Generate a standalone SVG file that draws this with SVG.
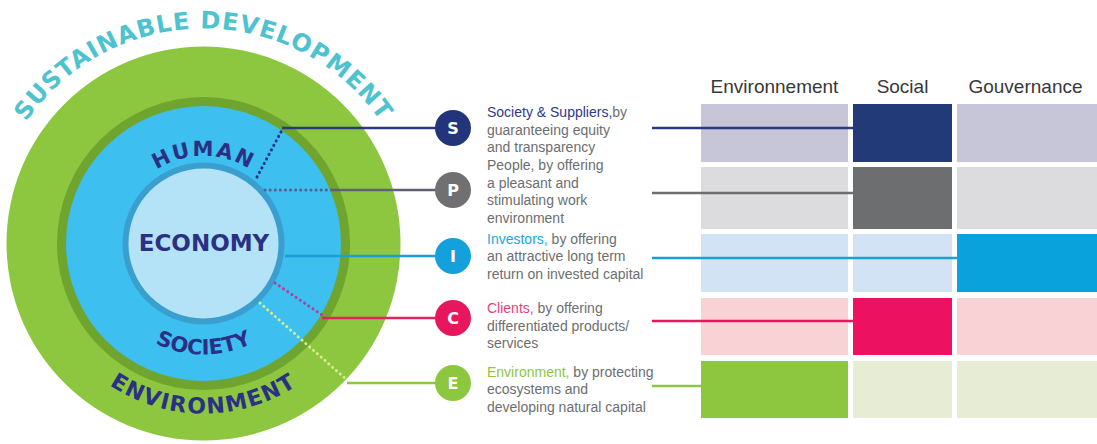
<svg xmlns="http://www.w3.org/2000/svg" width="1097" height="444" viewBox="0 0 1097 444">
<style>
.ring{font-family:"DejaVu Sans",sans-serif;font-weight:bold;fill:#2a3185}
.desc{font-family:"Liberation Sans",Arial,sans-serif;font-size:14px;fill:#6d6e70}
.hdr{font-family:"Liberation Sans",Arial,sans-serif;font-size:19px;fill:#383838;text-anchor:middle}
.let{font-family:"DejaVu Sans",sans-serif;font-weight:bold;font-size:16px;fill:#fff;text-anchor:middle}
.dot{fill:none;stroke-width:3;stroke-linecap:round;stroke-dasharray:0.1 5}
.sol{fill:none;stroke-width:2.5}
</style>
<defs>
<path id="pSust" d="M-11.5,243.5 A215,215 0 0 1 418.5,243.5"/>
<path id="pHuman" d="M116,243.5 A87.5,87.5 0 0 1 291,243.5"/>
<path id="pSociety" d="M92.5,243.5 A111,111 0 0 0 314.5,243.5"/>
<path id="pEnv" d="M33.5,243.5 A170,170 0 0 0 373.5,243.5"/>
</defs>
<rect width="1097" height="444" fill="#fff"/>

<g id="sustainability-circle">
<circle cx="203.5" cy="243.5" r="197" fill="#8dc63f"/>
<circle cx="203.5" cy="243.5" r="146.5" fill="#6fa52e"/>
<circle cx="203.5" cy="243.5" r="137.5" fill="#3dbfef"/>
<circle cx="203.5" cy="243.5" r="81" fill="#3a9fcf"/>
<circle cx="203.5" cy="243.5" r="75" fill="#b4e2f7"/>
<text class="ring" font-size="24" style="fill:#4ec3d0" letter-spacing="1"><textPath href="#pSust" startOffset="50%" text-anchor="middle">SUSTAINABLE DEVELOPMENT</textPath></text>
<text class="ring" font-size="21" letter-spacing="2"><textPath href="#pHuman" startOffset="50%" text-anchor="middle">HUMAN</textPath></text>
<text class="ring" font-size="23" x="204" y="251" text-anchor="middle">ECONOMY</text>
<text class="ring" font-size="21"><textPath href="#pSociety" startOffset="50%" text-anchor="middle">SOCIETY</textPath></text>
<text class="ring" font-size="22" letter-spacing="1.5"><textPath href="#pEnv" startOffset="50%" text-anchor="middle">ENVIRONMENT</textPath></text>
</g>

<g id="esg-grid">
<text class="hdr" x="774.5" y="93">Environnement</text>
<text class="hdr" x="902.5" y="93">Social</text>
<text class="hdr" x="1025.5" y="93">Gouvernance</text>
<rect x="701" y="104" width="147" height="58" fill="#c6c6d8"/>
<rect x="853" y="104" width="99" height="58" fill="#233a78"/>
<rect x="957" y="104" width="140" height="58" fill="#c6c6d8"/>
<rect x="701" y="167" width="147" height="62" fill="#dcdcde"/>
<rect x="853" y="167" width="99" height="62" fill="#6d6e70"/>
<rect x="957" y="167" width="140" height="62" fill="#dcdcde"/>
<rect x="701" y="234" width="147" height="58" fill="#d2e3f5"/>
<rect x="853" y="234" width="99" height="58" fill="#d2e3f5"/>
<rect x="957" y="234" width="140" height="58" fill="#0aa2dc"/>
<rect x="701" y="298" width="147" height="57" fill="#f9d2d5"/>
<rect x="853" y="298" width="99" height="57" fill="#ec1261"/>
<rect x="957" y="298" width="140" height="57" fill="#f9d2d5"/>
<rect x="701" y="361" width="147" height="57" fill="#8dc63f"/>
<rect x="853" y="361" width="99" height="57" fill="#e6edd4"/>
<rect x="957" y="361" width="140" height="57" fill="#e6edd4"/>
</g>

<g id="connectors">
<line class="dot" x1="257" y1="177" x2="282" y2="130" stroke="#22357a"/>
<line class="sol" x1="282" y1="128" x2="440" y2="128" stroke="#2a3a7a"/>
<line class="dot" x1="265" y1="190" x2="330" y2="190" stroke="#55618f"/>
<line class="sol" x1="330" y1="190" x2="440" y2="190" stroke="#5f6272"/>
<line class="sol" x1="285" y1="256" x2="440" y2="256" stroke="#1a9fd8"/>
<line class="dot" x1="275" y1="283" x2="322" y2="315" stroke="#b0409a"/>
<line class="sol" x1="322" y1="318" x2="440" y2="318" stroke="#e0245e"/>
<line class="dot" x1="260" y1="303" x2="347" y2="380" stroke="#d8ec8e"/>
<line class="sol" x1="347" y1="383" x2="440" y2="383" stroke="#8dc63f"/>
<line class="sol" x1="652" y1="128" x2="853" y2="128" stroke="#2a3a7a"/>
<line class="sol" x1="652" y1="193" x2="853" y2="193" stroke="#6d6e70"/>
<line class="sol" x1="652" y1="258" x2="957" y2="258" stroke="#1a9fd8"/>
<line class="sol" x1="652" y1="321" x2="853" y2="321" stroke="#e8175d"/>
<line class="sol" x1="652" y1="386" x2="701" y2="386" stroke="#8dc63f"/>
</g>

<g id="node-S">
<circle cx="453" cy="128" r="18" fill="#22357a"/>
<text class="let" x="453" y="134">S</text>
<text class="desc"><tspan x="487" y="117"><tspan fill="#2e3a87">Society &amp; Suppliers,</tspan>by</tspan><tspan x="487" y="134.5">guaranteeing equity</tspan><tspan x="487" y="152">and transparency</tspan></text>
</g>
<g id="node-P">
<circle cx="453" cy="190" r="18" fill="#707072"/>
<text class="let" x="453" y="196">P</text>
<text class="desc"><tspan x="487" y="170">People, by offering</tspan><tspan x="487" y="187.5">a pleasant and</tspan><tspan x="487" y="205">stimulating work</tspan><tspan x="487" y="222.5">environment</tspan></text>
</g>
<g id="node-I">
<circle cx="453" cy="256" r="18" fill="#14a0dc"/>
<text class="let" x="453" y="262">I</text>
<text class="desc"><tspan x="487" y="243.5"><tspan fill="#1ba6dd">Investors,</tspan> by offering</tspan><tspan x="487" y="261">an attractive long term</tspan><tspan x="487" y="278.5">return on invested capital</tspan></text>
</g>
<g id="node-C">
<circle cx="453" cy="318" r="18" fill="#e8175d"/>
<text class="let" x="453" y="324">C</text>
<text class="desc"><tspan x="487" y="313"><tspan fill="#e0457b">Clients,</tspan> by offering</tspan><tspan x="487" y="330.5">differentiated products/</tspan><tspan x="487" y="348">services</tspan></text>
</g>
<g id="node-E">
<circle cx="453" cy="383" r="18" fill="#8dc63f"/>
<text class="let" x="453" y="389">E</text>
<text class="desc"><tspan x="487" y="376.5"><tspan fill="#8dc63f">Environment,</tspan> by protecting</tspan><tspan x="487" y="394">ecosystems and</tspan><tspan x="487" y="411.5">developing natural capital</tspan></text>
</g>
</svg>
